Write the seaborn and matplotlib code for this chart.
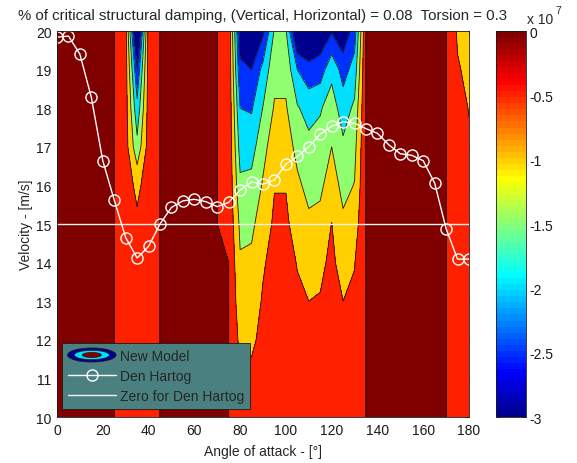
import numpy as np
import matplotlib
matplotlib.use("Agg")
import matplotlib.pyplot as plt
from matplotlib.colors import Normalize, ListedColormap
from matplotlib.cm import ScalarMappable
from matplotlib.legend_handler import HandlerBase
from matplotlib.patches import Ellipse, Patch
from matplotlib.lines import Line2D
import seaborn as sns

# grid of the new model
angles = list(range(0, 181, 5))
velocity = list(range(10, 21))

# damping of the new model (x 1e7) per unstable angle, velocity 10..20 m/s
# every other angle is 0
col_30 = [-0.3, -0.3, -0.3, -0.3, -0.3, -0.3, -0.3, -0.3, -0.3, -0.3, -0.3]
col_35 = [-0.35, -0.36, -0.37, -0.38, -0.4, -0.42, -0.6, -1.35, -1.85, -2.45, -3.5]
col_40 = [-0.3, -0.3, -0.3, -0.3, -0.3, -0.3, -0.3, -0.3, -0.3, -0.3, -0.3]
col_75 = [0, 0, 0, 0, 0, -0.1, -0.1, -0.1, -0.1, -0.1, -0.1]
col_80 = [-0.3, -0.42, -0.62, -0.8, -0.95, -1.1, -1.4, -1.7, -2.0, -2.4, -2.75]
col_85 = [-0.3, -0.4, -0.58, -0.75, -0.9, -1.1, -1.35, -1.7, -2.05, -2.5, -3.0]
col_90 = [-0.25, -0.3, -0.38, -0.45, -0.55, -0.75, -0.95, -1.15, -1.48, -1.85, -2.6]
col_95 = [-0.15, -0.18, -0.22, -0.28, -0.34, -0.42, -0.52, -0.75, -0.95, -1.15, -1.45]
col_100 = [-0.15, -0.18, -0.22, -0.28, -0.34, -0.42, -0.52, -0.75, -0.95, -1.15, -1.45]
col_105 = [-0.2, -0.28, -0.35, -0.43, -0.52, -0.7, -0.9, -1.15, -1.45, -2.0, -3.2]
col_110 = [-0.25, -0.32, -0.4, -0.5, -0.7, -0.9, -1.15, -1.35, -1.7, -2.3, -3.3]
col_115 = [-0.22, -0.3, -0.38, -0.47, -0.6, -0.85, -1.1, -1.3, -1.55, -2.25, -2.9]
col_120 = [-0.15, -0.2, -0.25, -0.32, -0.4, -0.49, -0.75, -1.0, -1.25, -1.65, -2.55]
col_125 = [-0.25, -0.32, -0.4, -0.5, -0.7, -0.9, -1.15, -1.4, -1.75, -2.2, -2.9]
col_130 = [-0.2, -0.26, -0.33, -0.42, -0.52, -0.75, -0.98, -1.15, -1.4, -1.8, -2.25]
col_175 = [-0.2, -0.22, -0.24, -0.26, -0.28, -0.3, -0.33, -0.36, -0.4, -0.46, -0.56]
col_180 = [-0.25, -0.28, -0.3, -0.33, -0.36, -0.39, -0.43, -0.47, -0.51, -0.6, -0.7]

# Den Hartog critical velocity per angle
den_hartog = [19.84, 19.87, 19.4, 18.28, 16.64, 15.62, 14.65, 14.12, 14.42, 15.0,
              15.43, 15.6, 15.64, 15.58, 15.45, 15.56, 15.88, 16.09, 16.03, 16.14,
              16.55, 16.75, 17.0, 17.33, 17.53, 17.65, 17.61, 17.47, 17.35, 17.05,
              16.82, 16.78, 16.64, 16.06, 14.88, 14.09, 14.09]
zero_line = 15

contour_levels = [-3, -2.5, -2, -1.5, -1, -0.5, 0]
cbar_labels = ["-3", "-2.5", "-2", "-1.5", "-1", "-0.5", "0"]

columns = {30: col_30, 35: col_35, 40: col_40, 75: col_75, 80: col_80, 85: col_85,
           90: col_90, 95: col_95, 100: col_100, 105: col_105, 110: col_110,
           115: col_115, 120: col_120, 125: col_125, 130: col_130,
           175: col_175, 180: col_180}
Z = np.zeros((len(velocity), len(angles)))
for a, col in columns.items():
    Z[:, angles.index(a)] = col


def matlab_jet(n=64):
    m = int(np.ceil(n / 4))
    u = np.r_[np.arange(1, m + 1) / m, np.ones(m - 1), np.arange(m, 0, -1) / m]
    g = int(np.ceil(m / 2)) - (1 if n % 4 == 1 else 0) + np.arange(1, len(u) + 1)
    r, b = g + m, g - m
    out = np.zeros((n, 3))
    for k, idx in enumerate([r, g, b]):
        ok = (idx >= 1) & (idx <= n)
        out[idx[ok] - 1, k] = u[ok]
    return ListedColormap(out)


jet = matlab_jet(64)
# each filled band takes the colour of its lower level, as in MATLAB contourf
band_colors = []
for lv in contour_levels:
    i = min(int((lv + 3) / 3 * 64), 63)
    band_colors.append(jet.colors[i])
levels = [-5, -2.5, -2, -1.5, -1, -0.5, -0.001, 1]

sns.set_theme(style="white")
plt.rcParams["font.family"] = ["Liberation Sans", "DejaVu Sans"]
plt.rcParams["axes.unicode_minus"] = False

fig = plt.figure(figsize=(5.77, 4.64), dpi=100)
ax = fig.add_axes([0.0988, 0.0991, 0.7140, 0.8319])
cax = fig.add_axes([0.8596, 0.0991, 0.0515, 0.8319])

A, V = np.meshgrid(angles, velocity)
ax.contourf(A, V, Z, levels=levels, colors=band_colors)
ax.contour(A, V, Z, levels=levels[1:-1], colors="k", linewidths=0.6, linestyles="solid")

ax.axhline(zero_line, color="#f2f2f2", lw=1)
sns.lineplot(x=angles, y=den_hartog, ax=ax, color="white", lw=1, marker="o",
             markersize=8, markerfacecolor="none", markeredgecolor="white",
             markeredgewidth=1, sort=False, legend=False)

ax.set_xlim(0, 180)
ax.set_ylim(10, 20)
ax.set_xticks(range(0, 181, 20))
ax.set_yticks(range(10, 21))
ax.tick_params(direction="in", top=True, right=True, length=3, width=0.6,
               colors="k", labelsize=10, pad=4)
for s in ax.spines.values():
    s.set_color("k")
    s.set_linewidth(0.6)
ax.set_xlabel("Angle of attack - [°]", fontsize=10, labelpad=5)
ax.set_ylabel("Velocity - [m/s]", fontsize=10, labelpad=2)
ax.set_title("% of critical structural damping, (Vertical, Horizontal) = 0.08  Torsion = 0.3",
             fontsize=10.8, pad=9)


class ContourIcon(HandlerBase):
    def create_artists(self, legend, orig_handle, xdescent, ydescent, width, height, fontsize, trans):
        cx = width / 2 - xdescent
        cy = height / 2 - ydescent
        arts = []
        for fw, fh, c in [(1.0, 1.45, band_colors[0]), (0.72, 0.95, band_colors[2]),
                          (0.39, 0.52, band_colors[6])]:
            arts.append(Ellipse((cx, cy), width * fw, height * fh, facecolor=c,
                                edgecolor="k", lw=0.5, transform=trans))
        return arts


new_model = Patch()
h_den = Line2D([], [], color="white", lw=1, marker="o", markersize=8,
               markerfacecolor="none", markeredgecolor="white")
h_zero = Line2D([], [], color="#f2f2f2", lw=1)
leg = ax.legend([new_model, h_den, h_zero], ["New Model", "Den Hartog", "Zero for Den Hartog"],
                handler_map={new_model: ContourIcon()}, loc="lower left",
                bbox_to_anchor=(0.012, 0.021), borderaxespad=0, fontsize=10,
                handlelength=3.5, handletextpad=0.3, labelspacing=0.45, borderpad=0.4,
                fancybox=False, framealpha=1, facecolor="#4a8080", edgecolor="k")
leg.get_frame().set_linewidth(0.6)

sm = ScalarMappable(norm=Normalize(-3, 0), cmap=jet)
cb = fig.colorbar(sm, cax=cax, ticks=contour_levels)
cb.ax.set_yticklabels(cbar_labels)
cb.outline.set_edgecolor("k")
cb.outline.set_linewidth(0.6)
cax.tick_params(direction="in", left=True, right=True, length=3, width=0.6,
                colors="k", labelsize=10, pad=3)
fig.text(0.913, 0.957, "x 10", fontsize=10, ha="left", va="center")
fig.text(0.962, 0.976, "7", fontsize=7.5, ha="left", va="center")

fig.savefig("out.png", dpi=100)
